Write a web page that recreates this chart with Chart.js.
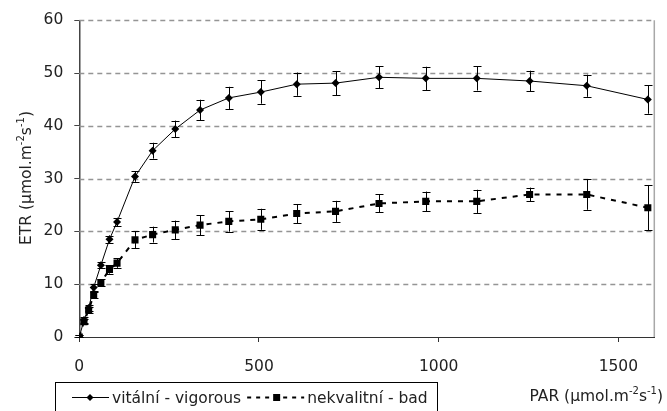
<!DOCTYPE html>
<html>
<head>
<meta charset="utf-8">
<script src="https://cdn.jsdelivr.net/npm/chart.js@4/dist/chart.umd.min.js"></script>
<style>
  html, body { margin: 0; padding: 0; background: #fff; }
  #wrap { width: 667px; height: 411px; position: relative; }
</style>
</head>
<body>
<div id="wrap"><canvas id="c" width="667" height="411"></canvas></div>
<script>
// ---- data ----
const parValues   = [0, 13, 26, 40, 60, 84, 105, 155, 204, 267, 336, 416, 505, 605, 713, 834, 964, 1106, 1253, 1412, 1582];
const vigorousETR = [0, 3.2, 5.5, 9.4, 13.6, 18.5, 21.8, 30.4, 35.3, 39.4, 43.0, 45.3, 46.4, 47.9, 48.1, 49.2, 49.0, 49.0, 48.5, 47.6, 45.0];
const vigorousSD  = [0.3, 0.5, 0.5, 0.6, 0.6, 0.7, 0.8, 1.0, 1.5, 1.6, 1.95, 2.1, 2.2, 2.2, 2.3, 2.1, 2.2, 2.3, 1.95, 2.1, 2.7];
const badETR      = [0, 2.9, 5.1, 8.0, 10.3, 12.8, 14.0, 18.4, 19.4, 20.3, 21.2, 21.9, 22.3, 23.4, 23.8, 25.3, 25.7, 25.7, 27.0, 27.0, 24.5];
const badSD       = [0.3, 0.5, 0.5, 0.6, 0.6, 0.8, 0.9, 1.6, 1.5, 1.75, 1.9, 1.95, 2.0, 1.8, 2.0, 1.7, 1.85, 2.2, 1.3, 2.9, 4.3];
const xTickValues = [0, 500, 1000, 1500];
const yTickValues = [0, 10, 20, 30, 40, 50, 60];
const seriesNames = ['vitální - vigorous', 'nekvalitní - bad'];
const yTitleParts = [['ETR (µmol.m', false], ['-2', true], ['s', false], ['-1', true], [')', false]];
const xTitleParts = [['PAR (µmol.m', false], ['-2', true], ['s', false], ['-1', true], [')', false]];

const FONT = '"DejaVu Sans", "Liberation Sans", Arial, sans-serif';
const FS = 15.5;
const TXT = '#222';

function toPoints(xs, ys) { return xs.map((x, i) => ({ x: x, y: ys[i] })); }

function drawRich(ctx, parts, x, y, size) {
  let cx = x;
  for (const [t, sup] of parts) {
    ctx.font = (sup ? Math.round(size * 0.66) : size) + 'px ' + FONT;
    ctx.fillText(t, cx, sup ? y - size * 0.45 : y);
    cx += ctx.measureText(t).width;
  }
  return cx - x;
}
function richWidth(ctx, parts, size) {
  let w = 0;
  for (const [t, sup] of parts) {
    ctx.font = (sup ? Math.round(size * 0.66) : size) + 'px ' + FONT;
    w += ctx.measureText(t).width;
  }
  return w;
}

const errorBars = {
  id: 'errorBars',
  beforeDatasetsDraw(chart) {
    const ctx = chart.ctx, xs = chart.scales.x, ys = chart.scales.y;
    const sets = [[vigorousETR, vigorousSD], [badETR, badSD]];
    ctx.save();
    ctx.strokeStyle = '#000';
    ctx.lineWidth = 1;
    for (const [vals, sd] of sets) {
      parValues.forEach((p, i) => {
        const px = Math.round(xs.getPixelForValue(p)) + 0.5;
        const top = ys.getPixelForValue(vals[i] + sd[i]);
        const bot = ys.getPixelForValue(Math.max(0, vals[i] - sd[i]));
        ctx.beginPath();
        ctx.moveTo(px, top); ctx.lineTo(px, bot);
        ctx.moveTo(px - 4, Math.round(top) + 0.5); ctx.lineTo(px + 4, Math.round(top) + 0.5);
        ctx.moveTo(px - 4, Math.round(bot) + 0.5); ctx.lineTo(px + 4, Math.round(bot) + 0.5);
        ctx.stroke();
      });
    }
    ctx.restore();
  }
};

const gridAndFrame = {
  id: 'gridAndFrame',
  beforeDatasetsDraw(chart) {
    const ctx = chart.ctx, a = chart.chartArea, ys = chart.scales.y;
    ctx.save();
    ctx.strokeStyle = '#959595';
    ctx.lineWidth = 1.5;
    ctx.setLineDash([5, 4]);
    yTickValues.forEach(v => {
      if (v === 0) return;
      const py = Math.round(ys.getPixelForValue(v)) + 0.5;
      ctx.beginPath(); ctx.moveTo(a.left, py); ctx.lineTo(a.right, py); ctx.stroke();
    });
    ctx.setLineDash([]);
    ctx.strokeStyle = '#a8a8a8';
    ctx.lineWidth = 1.5;
    ctx.beginPath(); ctx.moveTo(a.right, a.top); ctx.lineTo(a.right, a.bottom); ctx.stroke();
    ctx.restore();
  },
  afterDraw(chart) {
    const ctx = chart.ctx;
    ctx.save();
    ctx.fillStyle = TXT;
    ctx.textBaseline = 'alphabetic';
    // y title rotated
    const yw = richWidth(ctx, yTitleParts, FS);
    ctx.translate(31, 178);
    ctx.rotate(-Math.PI / 2);
    drawRich(ctx, yTitleParts, -yw / 2, 0, FS);
    ctx.setTransform(1, 0, 0, 1, 0, 0);
    // x title (right-aligned near the right edge)
    const xw = richWidth(ctx, xTitleParts, FS);
    drawRich(ctx, xTitleParts, 663 - xw, 401, FS);
    // legend
    ctx.font = FS + 'px ' + FONT;
    const t1x = 112;
    const t1w = ctx.measureText(seriesNames[0]).width;
    const s2 = t1x + t1w + 6;
    const t2x = s2 + 60;
    const t2w = ctx.measureText(seriesNames[1]).width;
    const boxR = Math.round(t2x + t2w + 9) + 0.5;
    ctx.strokeStyle = '#000';
    ctx.lineWidth = 1;
    ctx.strokeRect(55.5, 382.5, boxR - 55.5, 40);
    // vigorous sample
    ctx.beginPath(); ctx.moveTo(72, 397.5); ctx.lineTo(109, 397.5); ctx.stroke();
    ctx.fillStyle = '#000';
    ctx.beginPath(); ctx.moveTo(90, 394); ctx.lineTo(93.5, 397.5); ctx.lineTo(90, 401); ctx.lineTo(86.5, 397.5); ctx.closePath(); ctx.fill();
    ctx.fillStyle = TXT;
    ctx.fillText(seriesNames[0], t1x, 403);
    // bad sample
    ctx.strokeStyle = '#000';
    ctx.lineWidth = 2;
    ctx.setLineDash([4, 5]);
    ctx.beginPath(); ctx.moveTo(s2, 397.5); ctx.lineTo(s2 + 57, 397.5); ctx.stroke();
    ctx.setLineDash([]);
    ctx.fillStyle = '#000';
    ctx.fillRect(s2 + 26, 394, 7, 7);
    ctx.fillStyle = TXT;
    ctx.fillText(seriesNames[1], t2x, 403);
    ctx.restore();
  }
};

new Chart(document.getElementById('c'), {
  type: 'line',
  data: {
    datasets: [
      {
        label: seriesNames[0],
        data: toPoints(parValues, vigorousETR),
        borderColor: '#000', backgroundColor: '#000', borderWidth: 1,
        pointStyle: 'rectRot', pointRadius: 4, pointBorderWidth: 0,
        tension: 0, fill: false
      },
      {
        label: seriesNames[1],
        data: toPoints(parValues, badETR),
        borderColor: '#000', backgroundColor: '#000', borderWidth: 2, borderDash: [5, 6],
        pointStyle: 'rect', pointRadius: 5, pointBorderWidth: 0,
        tension: 0, fill: false
      }
    ]
  },
  options: {
    responsive: false,
    animation: false,
    devicePixelRatio: 1,
    layout: { padding: { top: 19, right: 12.7, left: 0, bottom: 0 } },
    plugins: { legend: { display: false }, tooltip: { enabled: false } },
    scales: {
      x: {
        type: 'linear', min: 0, max: 1600,
        afterBuildTicks: s => { s.ticks = xTickValues.map(v => ({ value: v })); },
        afterFit: s => { s.height = 74; },
        grid: { drawOnChartArea: false, drawTicks: true, tickLength: 5, tickColor: '#333', tickWidth: 1 },
        border: { display: true, color: '#333', width: 1 },
        ticks: { padding: 16, color: TXT, font: { family: FONT, size: FS }, maxRotation: 0,
                 callback: v => String(v) }
      },
      y: {
        type: 'linear', min: 0, max: 60,
        afterBuildTicks: s => { s.ticks = yTickValues.map(v => ({ value: v })); },
        afterFit: s => { s.width = 79.3; },
        grid: { drawOnChartArea: false, drawTicks: true, tickLength: 5, tickColor: '#444', tickWidth: 1 },
        border: { display: true, color: '#444', width: 1.5 },
        ticks: { padding: 11, color: TXT, font: { family: FONT, size: FS }, callback: v => String(v) }
      }
    }
  },
  plugins: [gridAndFrame, errorBars]
});
</script>
</body>
</html>
